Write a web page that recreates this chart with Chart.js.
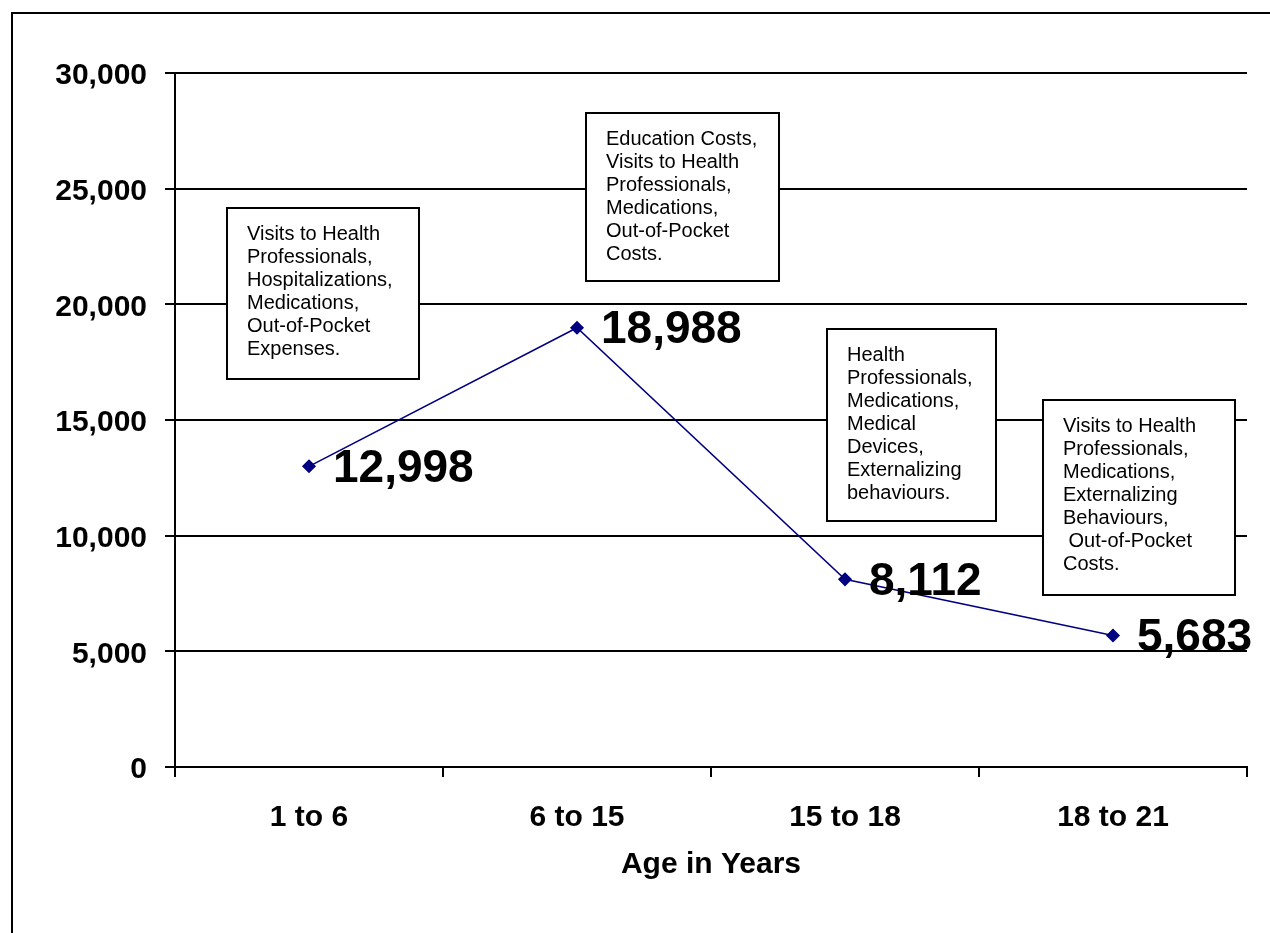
<!DOCTYPE html>
<html>
<head>
<meta charset="utf-8">
<script src="https://cdn.jsdelivr.net/npm/chart.js@4.4.1/dist/chart.umd.min.js"></script>
<style>
  html, body { margin: 0; padding: 0; background: #fff; overflow: hidden; }
  canvas { display: block; }
</style>
</head>
<body>
<canvas id="costChart" width="1270" height="933"></canvas>
<script>
// Age bands and annual cost per band
const ageGroups = ['1 to 6', '6 to 15', '15 to 18', '18 to 21'];
const annualCost = [12998, 18988, 8112, 5683];
const costTicks = [0, 5000, 10000, 15000, 20000, 25000, 30000];

// Main cost drivers listed beside each age band
const costDrivers = [
  ['Visits to Health', 'Professionals,', 'Hospitalizations,', 'Medications,', 'Out-of-Pocket', 'Expenses.'],
  ['Education Costs,', 'Visits to Health', 'Professionals,', 'Medications,', 'Out-of-Pocket', 'Costs.'],
  ['Health', 'Professionals,', 'Medications,', 'Medical', 'Devices,', 'Externalizing', 'behaviours.'],
  ['Visits to Health', 'Professionals,', 'Medications,', 'Externalizing', 'Behaviours,', ' Out-of-Pocket', 'Costs.']
];

// Note box placement: horizontal shift from the band centre (px), top edge in axis units, size in px
const noteLayout = [
  { dx: -82, top: 24150, w: 192, h: 171 },
  { dx: 9,   top: 28250, w: 193, h: 168 },
  { dx: -18, top: 18950, w: 169, h: 192 },
  { dx: -70, top: 15850, w: 192, h: 195 }
];

const FONT = '"Liberation Sans", Arial, Helvetica, sans-serif';
const fmt = v => v.toLocaleString('en-US');

const notesPlugin = {
  id: 'notes',
  beforeDatasetsDraw(chart) {
    const { ctx, scales: { x, y } } = chart;
    ctx.save();
    costDrivers.forEach((lines, i) => {
      const L = noteLayout[i];
      const left = Math.round(x.getPixelForValue(i) + L.dx);
      const top = Math.round(y.getPixelForValue(L.top));
      ctx.fillStyle = '#fff';
      ctx.fillRect(left, top, L.w, L.h);
      ctx.strokeStyle = '#000';
      ctx.lineWidth = 2;
      ctx.strokeRect(left, top, L.w, L.h);
      ctx.fillStyle = '#000';
      ctx.font = '20px ' + FONT;
      ctx.textAlign = 'left';
      ctx.textBaseline = 'alphabetic';
      lines.forEach((t, k) => ctx.fillText(t, left + 20, top + 32 + k * 23));
    });
    ctx.restore();
  },
  afterDatasetsDraw(chart) {
    const { ctx } = chart;
    const meta = chart.getDatasetMeta(0);
    ctx.save();
    ctx.fillStyle = '#000';
    ctx.font = 'bold 46px ' + FONT;
    ctx.textAlign = 'left';
    ctx.textBaseline = 'middle';
    meta.data.forEach((pt, i) => ctx.fillText(fmt(annualCost[i]), pt.x + 24, pt.y + 3));
    ctx.restore();
  },
  afterDraw(chart) {
    // page frame along the top and left edges
    const { ctx } = chart;
    ctx.save();
    ctx.strokeStyle = '#000';
    ctx.lineWidth = 2;
    ctx.beginPath();
    ctx.moveTo(12, chart.height);
    ctx.lineTo(12, 13);
    ctx.lineTo(chart.width, 13);
    ctx.stroke();
    ctx.restore();
  }
};

new Chart(document.getElementById('costChart'), {
  type: 'line',
  data: {
    labels: ageGroups,
    datasets: [{
      data: annualCost,
      borderColor: '#000080',
      borderWidth: 1.5,
      backgroundColor: '#000080',
      pointStyle: 'rectRot',
      pointRadius: 6,
      pointHoverRadius: 6,
      pointBackgroundColor: '#000080',
      pointBorderColor: '#000080',
      tension: 0,
      fill: false
    }]
  },
  options: {
    responsive: false,
    animation: false,
    devicePixelRatio: 1,
    layout: { padding: { top: 73, right: 23, bottom: 0, left: 0 } },
    plugins: { legend: { display: false }, tooltip: { enabled: false }, title: { display: false } },
    scales: {
      x: {
        offset: true,
        afterFit(s) { s.height = 166; },
        grid: { offset: true, drawOnChartArea: false, drawTicks: true, tickLength: 10, color: '#000', lineWidth: 2 },
        border: { display: true, color: '#000', width: 2 },
        ticks: { color: '#000', padding: 23, font: { family: FONT, size: 30, weight: 'bold' }, maxRotation: 0 },
        title: { display: true, text: 'Age in Years', color: '#000', padding: { top: 0, bottom: 50 },
                 font: { family: FONT, size: 30, weight: 'bold' } }
      },
      y: {
        min: 0,
        max: 30000,
        afterFit(s) { s.width = 175; },
        afterBuildTicks(s) { s.ticks = costTicks.map(v => ({ value: v })); },
        grid: { color: '#000', lineWidth: 2, tickLength: 10, drawTicks: true },
        border: { display: true, color: '#000', width: 2 },
        ticks: { color: '#000', padding: 18, labelOffset: 3, font: { family: FONT, size: 30, weight: 'bold' }, callback: v => fmt(v) }
      }
    }
  },
  plugins: [notesPlugin]
});
</script>
</body>
</html>
